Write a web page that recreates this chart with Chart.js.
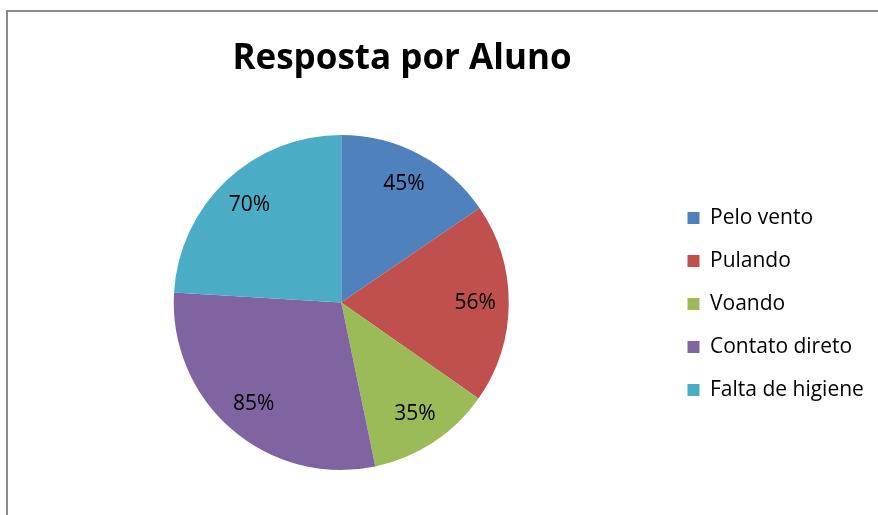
<!DOCTYPE html>
<html>
<head>
<meta charset="utf-8">
<script src="https://cdn.jsdelivr.net/npm/chart.js@4.4.0/dist/chart.umd.min.js"></script>
<style>
  html, body { margin: 0; padding: 0; background: #fff; overflow: hidden; }
  #wrap { position: relative; width: 878px; height: 515px; }
  #frame { position: absolute; left: 6px; top: 10px; width: 900px; height: 600px; border: 2px solid #898989; box-sizing: border-box; }
  canvas { position: absolute; left: 0; top: 0; }
</style>
</head>
<body>
<div id="wrap">
  <div id="frame"></div>
  <canvas id="c" width="878" height="515"></canvas>
</div>
<script>
const chartTitle = 'Resposta por Aluno';
const categories = ['Pelo vento', 'Pulando', 'Voando', 'Contato direto', 'Falta de higiene'];
const values = [45, 56, 35, 85, 70];
const valueLabels = ['45%', '56%', '35%', '85%', '70%'];
const colors = ['#4F81BD', '#C0504D', '#9BBB59', '#8064A2', '#4BACC6'];

const FONT = '"Open Sans", Calibri, sans-serif';
const LEGEND_SIZE = 21;
const LEGEND_PAD = 22;
const BOX = 12;

// measure legend text to place the legend box start at x = 687
const mctx = document.createElement('canvas').getContext('2d');
mctx.font = LEGEND_SIZE + 'px ' + FONT;
const maxW = Math.max(...categories.map(t => mctx.measureText(t).width));
const legendLeft = 687 - LEGEND_PAD;
const legendW = LEGEND_PAD + BOX + LEGEND_SIZE + maxW;
const padR = Math.max(0, 878 - (legendLeft + legendW));
const padL = 2 * 341 - legendLeft;

const adjustBoxes = {
  id: 'adjustBoxes',
  afterLayout(chart) {
    const tb = chart.titleBlock;
    if (tb) { const d = 402 - (tb.left + tb.right) / 2; tb.left += d; tb.right += d; }
    const lg = chart.legend;
    if (lg) { lg.top += 69; lg.bottom += 69; }
  }
};

const sliceLabels = {
  id: 'sliceLabels',
  afterDatasetsDraw(chart) {
    const ctx = chart.ctx;
    const meta = chart.getDatasetMeta(0);
    ctx.save();
    ctx.font = '21px ' + FONT;
    ctx.fillStyle = '#000';
    ctx.textAlign = 'center';
    ctx.textBaseline = 'middle';
    meta.data.forEach((arc, i) => {
      const p = arc.getProps(['x', 'y', 'startAngle', 'endAngle', 'outerRadius'], true);
      const mid = (p.startAngle + p.endAngle) / 2;
      const r = p.outerRadius * 0.8;
      ctx.fillText(valueLabels[i], p.x + Math.cos(mid) * r, p.y + Math.sin(mid) * r);
    });
    ctx.restore();
  }
};

new Chart(document.getElementById('c'), {
  type: 'pie',
  data: {
    labels: categories,
    datasets: [{
      data: values,
      backgroundColor: colors,
      borderWidth: 0,
      hoverOffset: 0
    }]
  },
  plugins: [adjustBoxes, sliceLabels],
  options: {
    responsive: false,
    animation: false,
    layout: { padding: { left: padL, right: padR, top: 0, bottom: 45 } },
    plugins: {
      title: {
        display: true,
        text: chartTitle,
        color: '#000',
        font: { family: FONT, size: 35, weight: 'bold', lineHeight: 1.2 },
        padding: { top: 38.5, bottom: 54.5 }
      },
      legend: {
        position: 'right',
        labels: {
          color: '#000',
          font: { family: FONT, size: LEGEND_SIZE },
          boxWidth: BOX,
          boxHeight: BOX,
          padding: LEGEND_PAD
        }
      },
      tooltip: { enabled: false }
    }
  }
});
</script>
</body>
</html>
